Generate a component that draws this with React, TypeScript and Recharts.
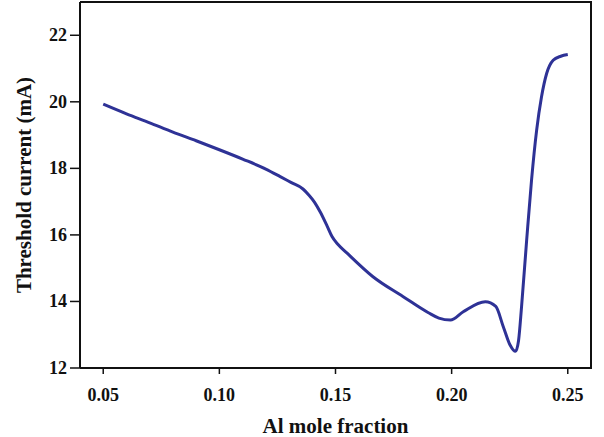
import { LineChart, Line, XAxis, YAxis, Label } from "recharts";

const alFraction = [
  0.05, 0.06, 0.07, 0.08, 0.09, 0.1, 0.11, 0.12, 0.126, 0.131, 0.136, 0.1385,
  0.141, 0.1435, 0.1465, 0.1485, 0.151, 0.155, 0.166, 0.179, 0.19, 0.1945,
  0.1995, 0.205, 0.2145, 0.219, 0.2222, 0.2251, 0.2275, 0.2288, 0.2301, 0.2323,
  0.2344, 0.2366, 0.2387, 0.2409, 0.2437, 0.247, 0.25,
];
const thresholdCurrent = [
  19.93, 19.64, 19.37, 19.09, 18.83, 18.56, 18.28, 17.98, 17.76, 17.57, 17.38,
  17.2, 16.98, 16.68, 16.25, 15.95, 15.72, 15.45, 14.75, 14.15, 13.66, 13.5,
  13.44, 13.69, 13.99, 13.85, 13.25, 12.7, 12.5, 12.82, 13.84, 15.84, 17.65,
  19.15, 20.15, 20.85, 21.25, 21.37, 21.42,
];
const xTicks = [0.05, 0.1, 0.15, 0.2, 0.25];
const yTicks = [12, 14, 16, 18, 20, 22];
const xDomain = [0.04, 0.26];
const yDomain = [12, 23];

const data = alFraction.map((x, i) => ({ x, y: thresholdCurrent[i] }));

const font = "'Liberation Serif', 'Times New Roman', serif";
const tickText = { fontSize: "18px", fontFamily: font, fontWeight: 700, fill: "#111" };

function XTick({ x, y, payload }: any) {
  return (
    <text x={x} y={y} dy={12.5} textAnchor="middle" style={tickText}>
      {Number(payload.value).toFixed(2)}
    </text>
  );
}

function YTick({ x, y, payload }: any) {
  return (
    <text x={x} y={y} dy={6} textAnchor="end" style={tickText}>
      {payload.value}
    </text>
  );
}

export default function App() {
  return (
    <div style={{ position: "absolute", left: 0, top: 0, width: 604, height: 437, background: "#fff" }}>
      <LineChart
        width={604}
        height={437}
        data={data}
        margin={{ top: 2, right: 13, bottom: 0, left: 0 }}
      >
        <XAxis
          dataKey="x"
          type="number"
          domain={xDomain}
          ticks={xTicks}
          height={69}
          tickSize={6}
          tickMargin={14}
          tick={<XTick />}
          axisLine={{ stroke: "#111", strokeWidth: 2 }}
          tickLine={{ stroke: "#111", strokeWidth: 1.5 }}
          allowDataOverflow
        >
          <Label
            value="Al mole fraction"
            position="center"
            dy={23}
            style={{ fontSize: 21, fontWeight: "bold", fill: "#111", fontFamily: font }}
          />
        </XAxis>
        <YAxis
          type="number"
          domain={yDomain}
          ticks={yTicks}
          width={80}
          tickSize={10}
          tickMargin={3}
          tick={<YTick />}
          axisLine={{ stroke: "#111", strokeWidth: 2 }}
          tickLine={{ stroke: "#111", strokeWidth: 1.5 }}
          allowDataOverflow
        >
          <Label
            value="Threshold current (mA)"
            angle={-90}
            position="center"
            dx={-16}
            style={{ fontSize: 21, fontWeight: "bold", fill: "#111", fontFamily: font, textAnchor: "middle" }}
          />
        </YAxis>
        <Line
          type="monotone"
          dataKey="y"
          stroke="#2e3296"
          strokeWidth={3}
          dot={false}
          isAnimationActive={false}
        />
      </LineChart>
      {/* top and right edges of the plot box */}
      <div
        style={{
          position: "absolute",
          left: 80,
          top: 1,
          width: 512,
          height: 368,
          boxSizing: "border-box",
          borderTop: "2px solid #111",
          borderRight: "2px solid #111",
          pointerEvents: "none",
        }}
      />
    </div>
  );
}
